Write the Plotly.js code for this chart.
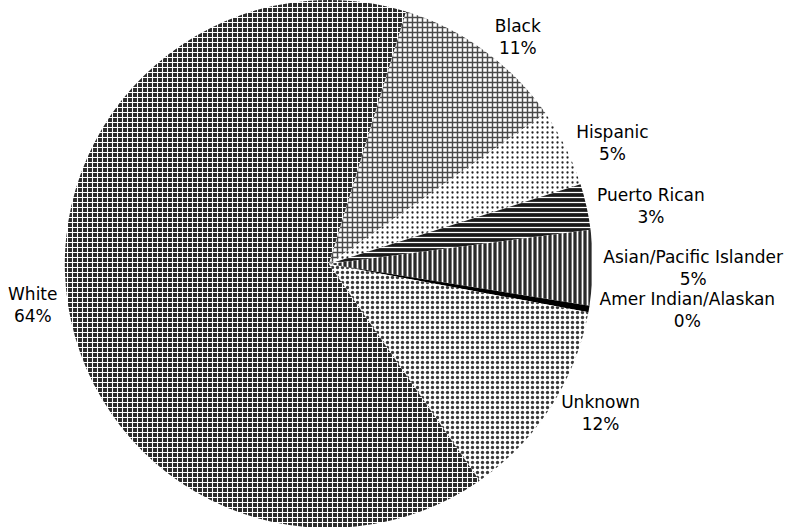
<!DOCTYPE html>
<html>
<head>
<meta charset="utf-8">
<script src="https://cdn.plot.ly/plotly-3.0.1.min.js"></script>
<style>
  html, body { margin: 0; padding: 0; background: #fff; }
  #chart { width: 802px; height: 528px; }
  .textline { display: none; }
</style>
</head>
<body>
<div id="chart"></div>
<script>
// Categories and shares (percent)
const categories = ["Black", "Hispanic", "Puerto Rican", "Asian/Pacific Islander", "Amer Indian/Alaskan", "Unknown", "White"];
const shares = [10.6, 4.8, 2.8, 4.6, 0.4, 12.4, 64.4];

// Halftone-like fills (grayscale, mimicking the dithered print)
const patternShapes = ["+", ".", "-", "|", "", ".", "+"];
const patternBg = ["#ffffff", "#ffffff", "#1a1a1a", "#2a2a2a", "#000000", "#ffffff", "#2a2a2a"];
const patternFg = ["#4a4a4a", "#222222", "#ffffff", "#ffffff", "#000000", "#3a3a3a", "#ffffff"];
const patternSolidity = [0.5, 0.16, 0.25, 0.35, 1, 0.35, 0.38];

const trace = {
  type: "pie",
  labels: categories,
  values: shares,
  sort: false,
  direction: "clockwise",
  rotation: 17,
  textposition: "outside",
  texttemplate: "%{label}<br>%{percent:.0%}",
  hoverinfo: "label+percent",
  outsidetextfont: { family: "DejaVu Sans, sans-serif", size: 17, color: "#000" },
  marker: {
    colors: patternBg,
    line: { width: 0 },
    pattern: {
      shape: patternShapes,
      bgcolor: patternBg,
      fgcolor: patternFg,
      fgopacity: 1,
      size: 5,
      solidity: patternSolidity
    }
  },
  domain: { x: [0.08, 0.74], y: [0.0, 1.0] },
  showlegend: false
};

const layout = {
  width: 802,
  height: 528,
  margin: { l: 0, r: 0, t: 0, b: 0 },
  paper_bgcolor: "#fff",
  plot_bgcolor: "#fff",
  font: { family: "DejaVu Sans, sans-serif", size: 17, color: "#000" },
  showlegend: false
};

Plotly.newPlot("chart", [trace], layout, { staticPlot: true, displayModeBar: false });
</script>
</body>
</html>
